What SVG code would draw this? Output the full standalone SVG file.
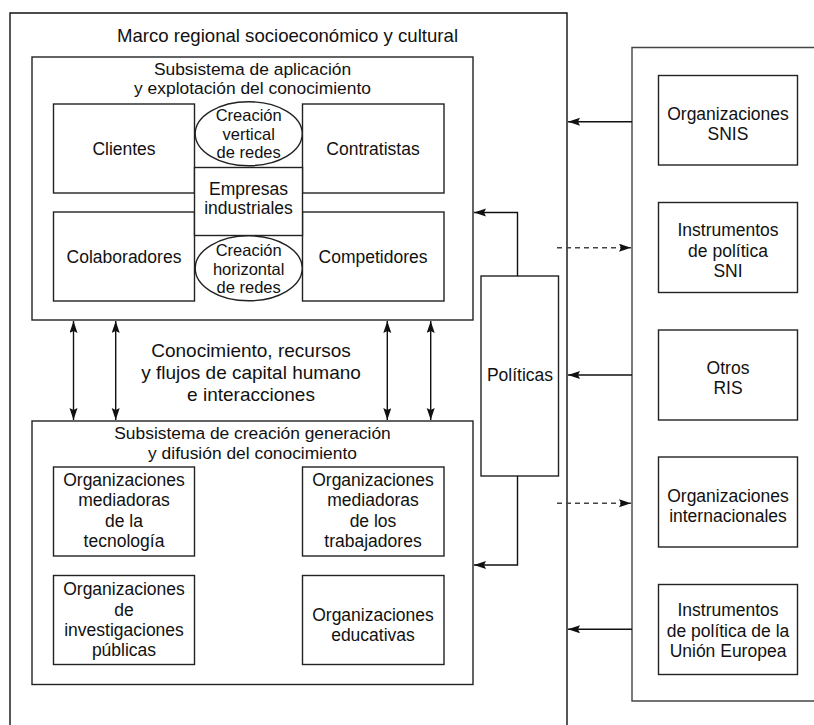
<svg xmlns="http://www.w3.org/2000/svg" width="814" height="725" viewBox="0 0 814 725">
  <style>
    .box { fill: #fff; stroke: #222; stroke-width: 1.4; }
    .panel { fill: none; stroke: #444; stroke-width: 1.4; }
    .ln { fill: none; stroke: #111; stroke-width: 1.4; }
    .dash { fill: none; stroke: #444; stroke-width: 1.4; stroke-dasharray: 5 4; }
    text { font-family: "Liberation Sans", Arial, sans-serif; font-size: 17.5px; fill: #111; text-anchor: middle; }
    .title { font-size: 18.6px; }
    .sub { font-size: 17.4px; }
    .flow { font-size: 19px; }
    .oval { font-size: 16.5px; }
  </style>
  <defs>
    <marker id="ah" markerUnits="userSpaceOnUse" markerWidth="13" markerHeight="9" refX="12" refY="4" orient="auto-start-reverse">
      <path d="M0,0 L12,4 L0,8 L2,4 z" fill="#111"/>
    </marker>
  </defs>

  <!-- outer regional frame (open at the bottom) -->
  <g id="marco-regional">
    <path class="ln" d="M10,725 V13 H567 V725"/>
    <text class="title" x="287.5" y="42">Marco regional socioeconómico y cultural</text>
  </g>

  <!-- knowledge application and exploitation subsystem -->
  <g id="subsistema-aplicacion">
    <rect class="box" x="32" y="57" width="441" height="263"/>
    <text class="sub" x="252.5" y="74.7">Subsistema de aplicación</text>
    <text class="sub" x="252.5" y="94.2">y explotación del conocimiento</text>
  </g>
  <g id="clientes">
    <rect class="box" x="53.5" y="104" width="141" height="89"/>
    <text x="124" y="155">Clientes</text>
  </g>
  <g id="contratistas">
    <rect class="box" x="302.5" y="104" width="141.5" height="89"/>
    <text x="373" y="155">Contratistas</text>
  </g>
  <g id="colaboradores">
    <rect class="box" x="53.5" y="212" width="141" height="89"/>
    <text x="124" y="263">Colaboradores</text>
  </g>
  <g id="competidores">
    <rect class="box" x="302.5" y="212" width="141.5" height="89"/>
    <text x="373" y="263">Competidores</text>
  </g>
  <g id="empresas">
    <rect class="box" x="194.5" y="167.5" width="108" height="68"/>
    <text x="248.5" y="194.7">Empresas</text>
    <text x="248.5" y="214.3">industriales</text>
  </g>
  <g id="creacion-vertical">
    <ellipse class="box" cx="248.7" cy="133.7" rx="53.5" ry="32"/>
    <text class="oval" x="248.7" y="121">Creación</text>
    <text class="oval" x="248.7" y="139.6">vertical</text>
    <text class="oval" x="248.7" y="158.2">de redes</text>
  </g>
  <g id="creacion-horizontal">
    <ellipse class="box" cx="248.7" cy="268.3" rx="53.5" ry="32.5"/>
    <text class="oval" x="248.7" y="256">Creación</text>
    <text class="oval" x="248.7" y="274.6">horizontal</text>
    <text class="oval" x="248.7" y="293.2">de redes</text>
  </g>

  <!-- flows between the two subsystems -->
  <g id="flujos">
    <text class="flow" x="251" y="357">Conocimiento, recursos</text>
    <text class="flow" x="251" y="379">y flujos de capital humano</text>
    <text class="flow" x="251" y="401">e interacciones</text>
  </g>

  <!-- knowledge creation, generation and diffusion subsystem -->
  <g id="subsistema-creacion">
    <rect class="box" x="32" y="421" width="441" height="263.5"/>
    <text class="sub" x="252.5" y="438.5">Subsistema de creación generación</text>
    <text class="sub" x="252.5" y="458.5">y difusión del conocimiento</text>
  </g>
  <g id="org-tecnologia">
    <rect class="box" x="53.5" y="467" width="141" height="89"/>
    <text x="124" y="486">Organizaciones</text>
    <text x="124" y="506.4">mediadoras</text>
    <text x="124" y="526.8">de la</text>
    <text x="124" y="547.2">tecnología</text>
  </g>
  <g id="org-trabajadores">
    <rect class="box" x="302.5" y="467" width="141.5" height="89"/>
    <text x="373" y="486">Organizaciones</text>
    <text x="373" y="506.4">mediadoras</text>
    <text x="373" y="526.8">de los</text>
    <text x="373" y="547.2">trabajadores</text>
  </g>
  <g id="org-investigacion">
    <rect class="box" x="53.5" y="575.5" width="141" height="89"/>
    <text x="124" y="595.2">Organizaciones</text>
    <text x="124" y="615.6">de</text>
    <text x="124" y="636">investigaciones</text>
    <text x="124" y="656.4">públicas</text>
  </g>
  <g id="org-educativas">
    <rect class="box" x="302.5" y="575.5" width="141.5" height="89"/>
    <text x="373" y="620.7">Organizaciones</text>
    <text x="373" y="640.5">educativas</text>
  </g>

  <!-- policies -->
  <g id="politicas">
    <rect class="box" x="481" y="276" width="77.5" height="200"/>
    <text x="520" y="381">Políticas</text>
  </g>

  <!-- external environment panel -->
  <g id="entorno-externo">
    <path class="panel" d="M820,47.5 H632 V701 H820"/>
  </g>
  <g id="org-snis">
    <rect class="box" x="658.5" y="75.5" width="139" height="89.5"/>
    <text x="728" y="120">Organizaciones</text>
    <text x="728" y="139.8">SNIS</text>
  </g>
  <g id="instrumentos-sni">
    <rect class="box" x="658.5" y="202.5" width="139" height="90"/>
    <text x="728" y="236">Instrumentos</text>
    <text x="728" y="256.8">de política</text>
    <text x="728" y="277">SNI</text>
  </g>
  <g id="otros-ris">
    <rect class="box" x="658.5" y="330" width="139" height="90"/>
    <text x="728" y="373.5">Otros</text>
    <text x="728" y="394">RIS</text>
  </g>
  <g id="org-internacionales">
    <rect class="box" x="658.5" y="457" width="139" height="90"/>
    <text x="728" y="502">Organizaciones</text>
    <text x="728" y="522">internacionales</text>
  </g>
  <g id="instrumentos-ue">
    <rect class="box" x="658.5" y="584.5" width="139" height="90"/>
    <text x="728" y="616">Instrumentos</text>
    <text x="728" y="636.6">de política de la</text>
    <text x="728" y="657">Unión Europea</text>
  </g>

  <!-- connectors -->
  <g id="connectors">
    <line class="ln" x1="73.5" y1="321" x2="73.5" y2="420" marker-start="url(#ah)" marker-end="url(#ah)"/>
    <line class="ln" x1="115.7" y1="321" x2="115.7" y2="420" marker-start="url(#ah)" marker-end="url(#ah)"/>
    <line class="ln" x1="387.3" y1="321" x2="387.3" y2="420" marker-start="url(#ah)" marker-end="url(#ah)"/>
    <line class="ln" x1="430.7" y1="321" x2="430.7" y2="420" marker-start="url(#ah)" marker-end="url(#ah)"/>

    <polyline class="ln" points="517.5,276 517.5,212.5 474,212.5" marker-end="url(#ah)"/>
    <polyline class="ln" points="517.5,476 517.5,565 474,565" marker-end="url(#ah)"/>

    <line class="ln" x1="632" y1="121.7" x2="568" y2="121.7" marker-end="url(#ah)"/>
    <line class="ln" x1="632" y1="375" x2="568" y2="375" marker-end="url(#ah)"/>
    <line class="ln" x1="632" y1="629.3" x2="568" y2="629.3" marker-end="url(#ah)"/>

    <line class="dash" x1="557" y1="247.7" x2="631" y2="247.7" marker-end="url(#ah)"/>
    <line class="dash" x1="557" y1="503.3" x2="631" y2="503.3" marker-end="url(#ah)"/>
  </g>
</svg>
